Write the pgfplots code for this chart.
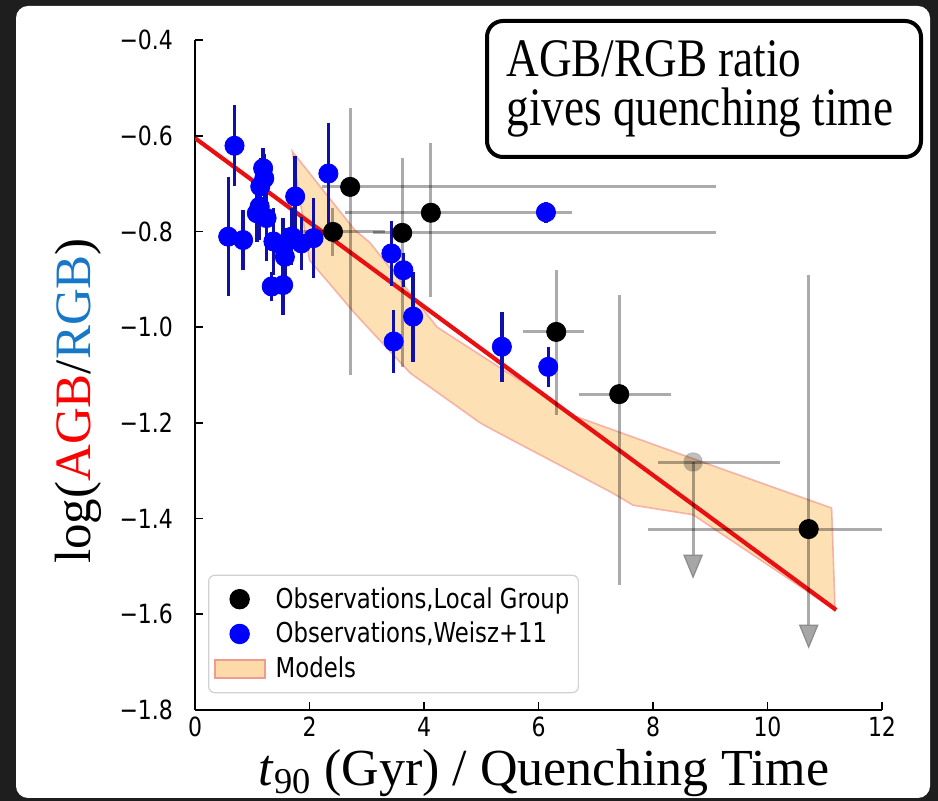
\documentclass[border=0pt]{standalone}
\usepackage{pgfplots}
\pgfplotsset{compat=1.18}
\usepackage{pgfplotstable}
\usepackage{graphicx}
\usepackage{fontspec}
\setmainfont{Liberation Serif}
\newfontfamily\dejavu{DejaVu Sans}

\definecolor{bg}{HTML}{1E1E1E}
\definecolor{obsblue}{HTML}{0000FF}
\definecolor{barblue}{HTML}{1010A8}
\definecolor{bandfill}{HTML}{FDDBA8}
\definecolor{bandedge}{HTML}{F29A92}
\definecolor{fitred}{HTML}{E81010}
\definecolor{labblue}{HTML}{1878C8}

% slightly tall lettering used for the plot annotations
\newcommand\mpl[1]{\scalebox{1}[1.2]{#1}}

% Local Group galaxies: value, asymmetric errors
\pgfplotstableread{
x     y      xm    xp    ym    yp
2.71  -0.707 0.49  6.39  0.393 0.165
2.41  -0.801 0.91  0.91  0.050 0.050
4.12  -0.761 1.50  2.47  0.176 0.146
3.62  -0.803 0.51  5.48  0.280 0.156
6.31  -1.010 0.58  0.48  0.174 0.129
7.41  -1.140 0.70  0.90  0.399 0.207
10.72 -1.422 2.81  1.28  0.200 0.531
}\localgroup

% Local Group upper limit
\pgfplotstableread{
x     y      xm    xp    ym    yp
8.70  -1.282 0.62  1.52  0.194 0.0
}\upperlim

% arrow heads of the upper limits
\pgfplotstableread{
x     y
8.70  -1.492
10.72 -1.638
}\arrows

% Weisz+11 dwarfs
\pgfplotstableread{
x     y      e
0.69  -0.621 0.085
0.58  -0.811 0.124
0.84  -0.818 0.063
1.19  -0.668 0.042
1.21  -0.689 0.050
1.14  -0.706 0.060
1.13  -0.748 0.070
1.08  -0.762 0.060
1.25  -0.772 0.090
1.37  -0.821 0.070
1.54  -0.832 0.060
1.57  -0.853 0.060
1.34  -0.915 0.030
1.54  -0.912 0.063
1.75  -0.727 0.085
1.69  -0.811 0.060
1.86  -0.825 0.055
2.07  -0.814 0.084
2.33  -0.679 0.106
3.43  -0.846 0.068
3.64  -0.881 0.036
3.81  -0.978 0.094
3.47  -1.030 0.065
5.36  -1.041 0.073
6.17  -1.083 0.042
6.13  -0.760 0.022
}\weisz

\begin{document}
\begin{tikzpicture}
\useasboundingbox (0pt,0pt) rectangle (469pt,-400.5pt);
\begin{scope}[x=0.5pt,y=-0.5pt]
\fill[bg] (0,0) rectangle (938,801);
\fill[white, rounded corners=6pt] (16,6) rectangle (930,798);
\end{scope}

\begin{axis}[
  at={(97.5pt,-355pt)}, anchor=south west,
  width=343.5pt, height=335pt, scale only axis,
  xmin=0, xmax=12, ymin=-1.8, ymax=-0.4,
  axis x line*=bottom, axis y line*=left,
  axis line style={line width=1pt},
  tick align=inside, major tick length=4pt,
  tick style={line width=0.8pt, black},
  ticklabel style={font=\dejavu\fontsize{11}{13}\selectfont},
  xtick={0,2,4,6,8,10,12},
  xticklabels={\mpl{0},\mpl{2},\mpl{4},\mpl{6},\mpl{8},\mpl{10},\mpl{12}},
  ytick={-1.8,-1.6,-1.4,-1.2,-1.0,-0.8,-0.6,-0.4},
  yticklabels={\mpl{−1.8},\mpl{−1.6},\mpl{−1.4},\mpl{−1.2},\mpl{−1.0},\mpl{−0.8},\mpl{−0.6},\mpl{−0.4}},
  yticklabel style={xshift=-7.5pt},
  legend cell align=left,
  legend style={at={(0.019,0.025)}, anchor=south west,
    draw=black!18, line width=0.6pt, rounded corners=3pt,
    fill=white, inner xsep=2.5pt, inner ysep=4pt, row sep=1.5pt,
    font=\dejavu\fontsize{11.4}{13}\selectfont,
    /tikz/every odd column/.append style={column sep=3pt}},
]
% legend keys
\addlegendimage{legend image code/.code={
  \path[draw=none, fill=none] (0pt,-5pt) rectangle (25pt,5pt);
  \draw[black, mark=*, mark size=4.8pt, only marks] plot coordinates {(12.5pt,0pt)};}}
\addlegendentry{\mpl{Observations,Local Group}}
\addlegendimage{legend image code/.code={
  \path[draw=none, fill=none] (0pt,-5pt) rectangle (25pt,5pt);
  \draw[obsblue, mark=*, mark size=4.8pt, only marks] plot coordinates {(12.5pt,0pt)};}}
\addlegendentry{\mpl{Observations,Weisz+11}}
\addlegendimage{legend image code/.code={
  \draw[fill=bandfill, draw=bandedge, line width=1pt, sharp corners] (0pt,-4.5pt) rectangle (25pt,4.5pt);}}
\addlegendentry{\mpl{Models}}

% model band
\addplot[forget plot, fill=bandfill, fill opacity=0.85, draw=bandedge, draw opacity=0.7, line width=0.8pt]
  coordinates {(1.70,-0.633) (2.79,-0.797) (3.06,-0.824) (4.23,-1.000) (4.98,-1.058)
  (6.66,-1.187) (8.47,-1.265) (11.12,-1.378) (11.18,-1.591) (8.70,-1.392)
  (7.65,-1.372) (7.30,-1.347) (5.27,-1.219) (4.98,-1.200) (3.76,-1.096)
  (3.06,-1.006) (2.79,-0.971) (2.00,-0.860)} --cycle;

% linear relation
\addplot[forget plot, fitred, line width=2.1pt] coordinates {(0,-0.605) (11.2,-1.591)};

% error bars of the Local Group points
\addplot[forget plot, draw=none, mark=none,
  error bars/.cd, x dir=both, x explicit, y dir=both, y explicit,
  error mark=none, error bar style={line width=1.5pt, black, opacity=0.33}]
  table[x=x, y=y, x error plus=xp, x error minus=xm, y error plus=yp, y error minus=ym] {\localgroup};
\addplot[forget plot, draw=none, mark=none,
  error bars/.cd, x dir=both, x explicit, y dir=both, y explicit,
  error mark=none, error bar style={line width=1.5pt, black, opacity=0.33}]
  table[x=x, y=y, x error plus=xp, x error minus=xm, y error plus=yp, y error minus=ym] {\upperlim};

% upper limit arrows and marker
\addplot[forget plot, only marks, mark=triangle*, mark size=5.2pt,
  mark options={rotate=180, yscale=1.4, fill=black!35, draw=black!45, line width=0.6pt}]
  table[x=x, y=y] {\arrows};
\addplot[forget plot, only marks, mark=*, mark size=4.7pt,
  mark options={fill=black, fill opacity=0.25, draw=black!40, draw opacity=0.5}]
  table[x=x, y=y] {\upperlim};

% Weisz+11 sample
\addplot[forget plot, only marks, mark=*, mark size=4.8pt, obsblue,
  error bars/.cd, y dir=both, y explicit, error mark=none,
  error bar style={line width=1.7pt, barblue}]
  table[x=x, y=y, y error=e] {\weisz};

% Local Group markers on top
\addplot[forget plot, only marks, mark=*, mark size=4.8pt, black]
  table[x=x, y=y] {\localgroup};
\end{axis}

\begin{scope}[x=0.5pt,y=-0.5pt]
\node[rotate=90, font=\fontsize{25.5}{30}\selectfont] at (78,401)
  {log(\textcolor{red}{AGB}/\textcolor{labblue}{RGB})};
\node[anchor=base, font=\fontsize{26}{30}\selectfont] at (544,786)
  {\textit{t}\textsubscript{90} (Gyr) / Quenching Time};
\draw[line width=2pt, rounded corners=8pt, fill=white] (487,21) rectangle (921,157);
\node[anchor=base west, inner sep=0pt, font=\fontsize{22.6}{26}\selectfont] at (506,77)
  {\mpl{AGB/RGB ratio}};
\node[anchor=base west, inner sep=0pt, font=\fontsize{22.6}{26}\selectfont] at (506,126)
  {\mpl{gives quenching time}};
\end{scope}
\end{tikzpicture}
\end{document}
